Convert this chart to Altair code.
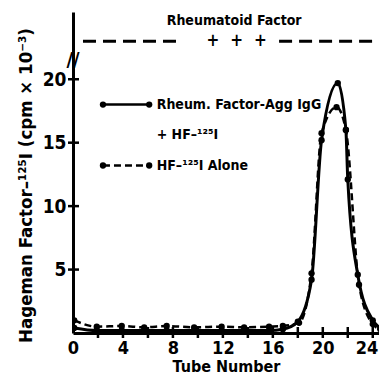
import altair as alt
import pandas as pd

FONT = "DejaVu Sans Condensed"

# --- data ---
solid_tube = [0.1, 1.9, 3.9, 5.7, 7.5, 9.7, 11.9, 13.7, 15.7, 16.8, 18.0, 19.1, 19.9, 21.2, 21.85, 22.0, 22.8, 24.0, 24.6]
solid_cpm = [0.4, 0.2, 0.2, 0.2, 0.2, 0.2, 0.2, 0.2, 0.2, 0.3, 0.9, 4.2, 15.2, 19.7, 16.0, 12.1, 4.6, 1.0, 0.4]

dashed_tube = [0.1, 1.9, 3.9, 5.7, 7.5, 9.7, 11.9, 13.7, 15.7, 16.8, 18.1, 19.1, 19.9, 21.1, 21.85, 22.9, 24.0, 24.6]
dashed_cpm = [1.0, 0.5, 0.55, 0.45, 0.55, 0.45, 0.5, 0.45, 0.5, 0.55, 0.8, 4.7, 15.75, 17.8, 16.0, 3.8, 0.7, 0.3]

x_ticks = [2, 4, 6, 8, 10, 12, 14, 16, 18, 20, 22, 24]
x_labels = [0, 4, 8, 12, 16, 20, 24]
y_ticks = [5, 10, 15, 20]

rf_seg_start = [0.8, 16.5]
rf_seg_end = [8.3, 24.5]
rf_level = 23.0
rf_plus_tubes = [11.2, 13.1, 15.0]
rf_title = "Rheumatoid Factor"

legend_x = [2.4, 6.1]
legend_rows = [18.0, 13.2]
legend_text = ["Rheum. Factor-Agg IgG", "+ HF–¹²⁵I", "HF–¹²⁵I  Alone"]
legend_text_y = [18.0, 15.6, 13.2]

PLOT_W, PLOT_H = 306, 321

x_scale = alt.Scale(domain=[0, 24.5], nice=False, zero=False)
y_scale = alt.Scale(domain=[0, 25.3], nice=False)

solid_df = pd.DataFrame({"tube": solid_tube, "cpm": solid_cpm})
dashed_df = pd.DataFrame({"tube": dashed_tube, "cpm": dashed_cpm})

X = lambda f="tube:Q": alt.X(f, scale=x_scale)
Y = lambda f="cpm:Q": alt.Y(f, scale=y_scale)

x_enc = alt.X("tube:Q", scale=x_scale, axis=alt.Axis(
    values=x_labels, ticks=False, grid=False, domainColor="black", domainWidth=3,
    labelFont=FONT, labelFontSize=18, labelFontWeight="bold", labelColor="black",
    labelPadding=6, labelFlush=False, labelOverlap=False, labelBound=False,
    labelAlign=alt.expr("datum.value == 24 ? 'right' : 'center'"),
    labelOffset=alt.expr("datum.value == 24 ? 5 : 0"),
    title="Tube Number", titleFont=FONT, titleFontSize=16, titleFontWeight="bold",
    titleColor="black", titlePadding=1))
y_enc = alt.Y("cpm:Q", scale=y_scale, axis=alt.Axis(
    values=y_ticks, ticks=False, grid=False, domainColor="black", domainWidth=3,
    labelFont=FONT, labelFontSize=19, labelFontWeight="bold", labelColor="black",
    labelPadding=7,
    title="Hageman Factor–¹²⁵I  (cpm × 10⁻³)", titleFont=FONT, titleFontSize=18.5,
    titleFontWeight="bold", titleColor="black", titleX=-42, titleY=173,
    titleBaseline="alphabetic"))

solid_line = alt.Chart(solid_df).mark_line(
    color="black", strokeWidth=3, interpolate="monotone", clip=True
).encode(x=x_enc, y=y_enc)
solid_pts = alt.Chart(solid_df).mark_circle(color="black", size=40, opacity=1, clip=True).encode(x=X(), y=Y())

dashed_line = alt.Chart(dashed_df).mark_line(
    color="black", strokeWidth=2.5, strokeDash=[7, 4], interpolate="monotone", clip=True
).encode(x=X(), y=Y())
dashed_pts = alt.Chart(dashed_df).mark_circle(color="black", size=40, opacity=1, clip=True).encode(x=X(), y=Y())

# axis ticks crossing the axis lines
xt = alt.Chart(pd.DataFrame({"tube": x_ticks})).mark_rule(color="black", strokeWidth=2.5).encode(
    x=X(), y=alt.value(PLOT_H - 6), y2=alt.value(PLOT_H + 5))
yt = alt.Chart(pd.DataFrame({"cpm": y_ticks})).mark_rule(color="black", strokeWidth=2.5).encode(
    y=Y(), x=alt.value(-5), x2=alt.value(6))

# axis break mark
brk = alt.Chart(pd.DataFrame({"tube": [0], "cpm": [21.5], "t": ["//"]})).mark_text(
    font=FONT, fontSize=20, fontWeight="bold", color="black", baseline="middle", align="center"
).encode(x=X(), y=Y(), text="t:N")

# rheumatoid factor row
rf_df = pd.DataFrame({"a": rf_seg_start, "b": rf_seg_end, "cpm": [rf_level] * len(rf_seg_start)})
rf_rule = alt.Chart(rf_df).mark_rule(color="black", strokeWidth=3, strokeDash=[13, 7]).encode(
    x=X("a:Q"), x2="b:Q", y=Y())
rf_plus = alt.Chart(pd.DataFrame({"tube": rf_plus_tubes, "cpm": [rf_level] * 3, "t": ["+"] * 3})).mark_text(
    font=FONT, fontSize=17, fontWeight="bold", color="black", baseline="middle", align="center"
).encode(x=X(), y=Y(), text="t:N")
rf_ttl = alt.Chart(pd.DataFrame({"tube": [12.9], "cpm": [24.6], "t": [rf_title]})).mark_text(
    font=FONT, fontSize=14, fontWeight="bold", color="black", baseline="middle", align="center"
).encode(x=X(), y=Y(), text="t:N")

# legend
leg_solid = pd.DataFrame({"tube": legend_x, "cpm": [legend_rows[0]] * 2})
leg_dash = pd.DataFrame({"tube": legend_x, "cpm": [legend_rows[1]] * 2})
ls_line = alt.Chart(leg_solid).mark_line(color="black", strokeWidth=2.5).encode(x=X(), y=Y())
ls_pts = alt.Chart(leg_solid).mark_circle(color="black", size=40, opacity=1).encode(x=X(), y=Y())
ld_line = alt.Chart(leg_dash).mark_line(color="black", strokeWidth=2.5, strokeDash=[7, 4]).encode(x=X(), y=Y())
ld_pts = alt.Chart(leg_dash).mark_circle(color="black", size=40, opacity=1).encode(x=X(), y=Y())
leg_txt = alt.Chart(pd.DataFrame({"tube": [6.7] * 3, "cpm": legend_text_y, "t": legend_text})).mark_text(
    font=FONT, fontSize=14, fontWeight="bold", color="black", baseline="middle", align="left"
).encode(x=X(), y=Y(), text="t:N")

chart = alt.layer(
    solid_line, dashed_line, solid_pts, dashed_pts, xt, yt, brk,
    rf_rule, rf_plus, rf_ttl, ls_line, ld_line, ls_pts, ld_pts, leg_txt
).properties(
    width=PLOT_W, height=PLOT_H,
    autosize=alt.AutoSizeParams(type="none"),
    padding={"left": 65, "top": 4, "right": 0, "bottom": 46},
    background="white",
).configure_view(stroke=None)

chart.save("out.html", embed_options={"renderer": "svg", "actions": False})
